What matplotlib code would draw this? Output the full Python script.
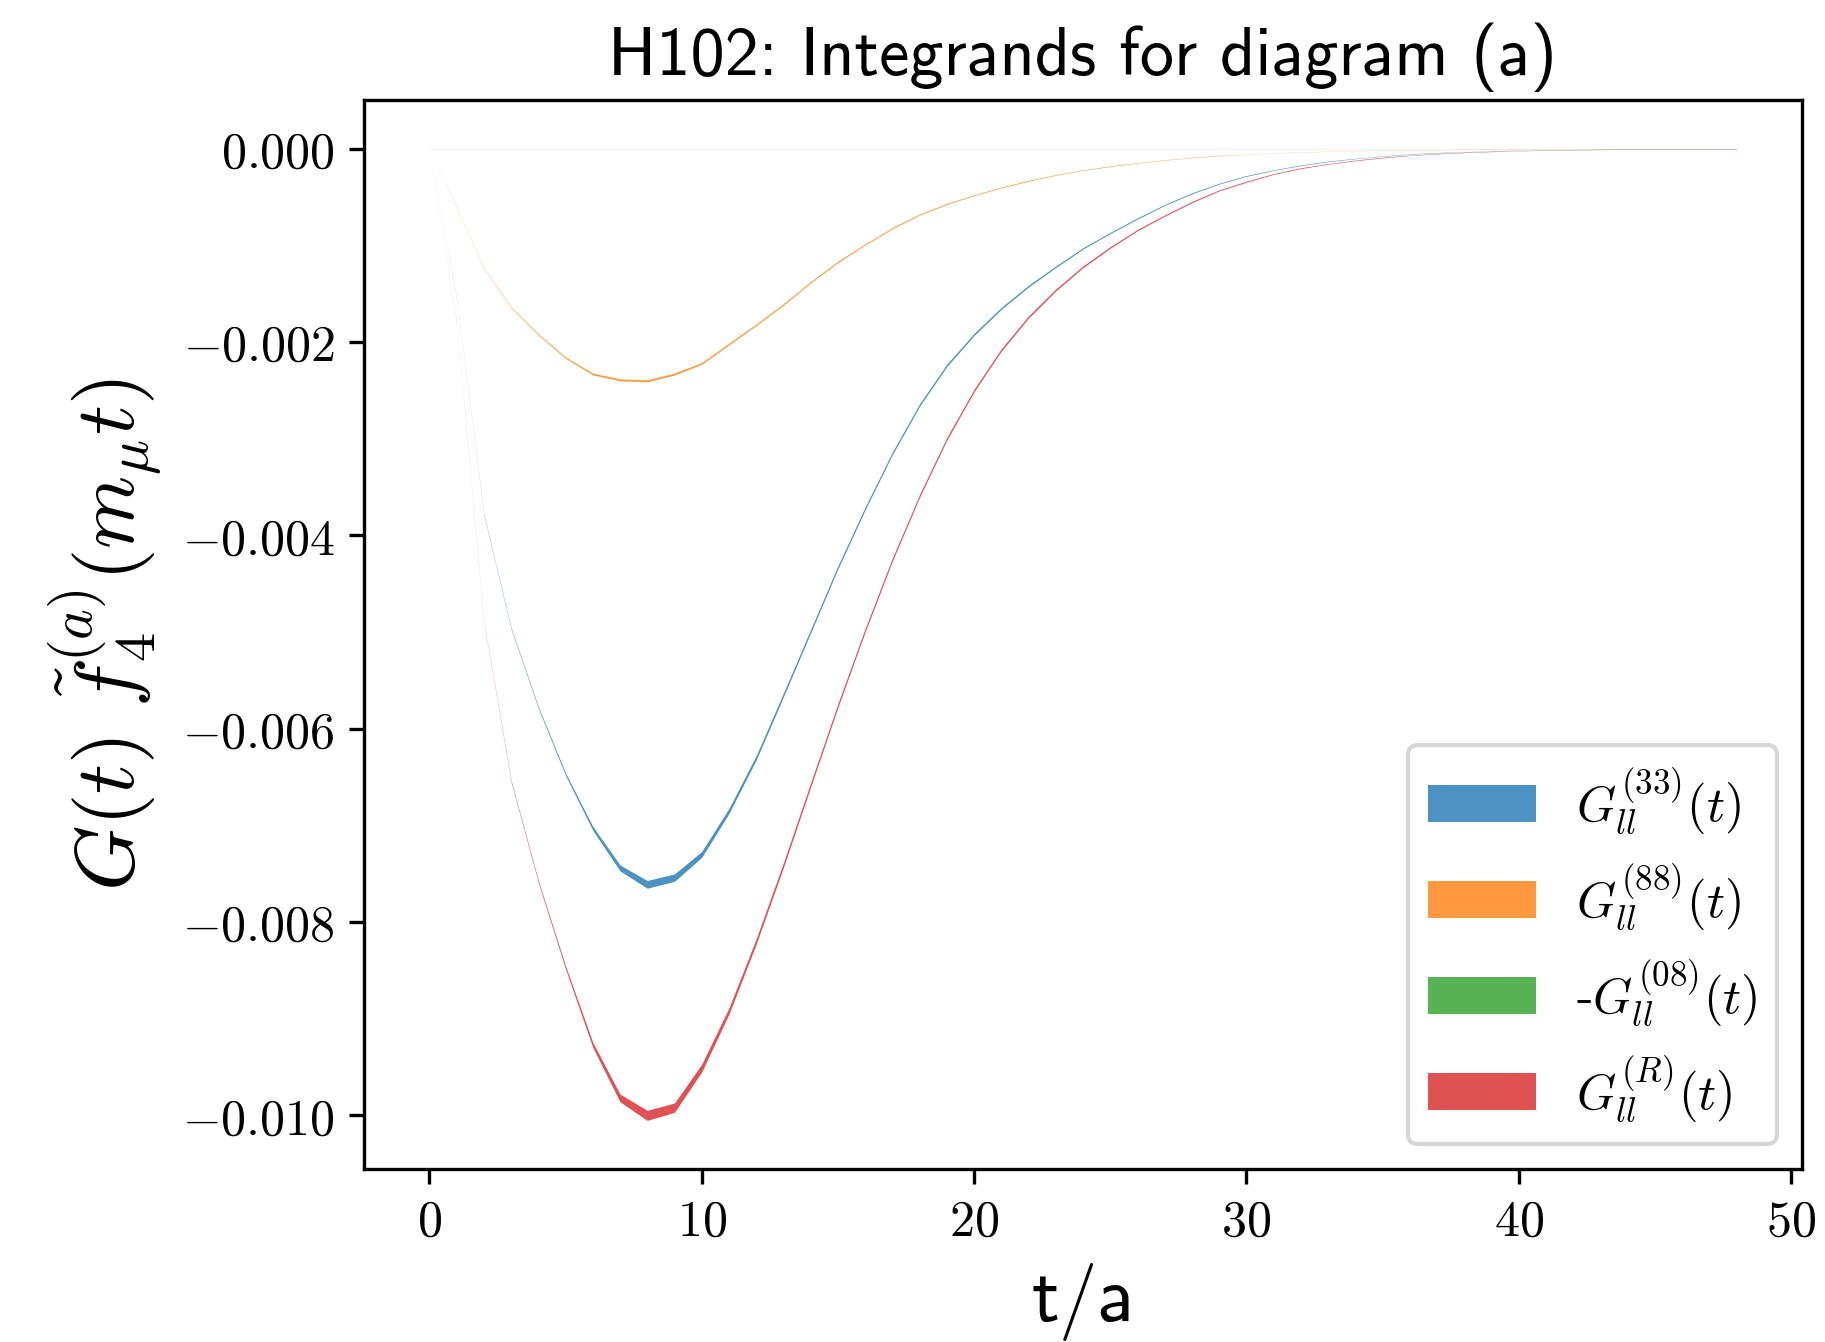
import matplotlib
matplotlib.use('Agg')
import matplotlib.pyplot as plt
import numpy as np

plt.rcParams['mathtext.fontset'] = 'cm'

# time slices t/a
t = np.arange(0, 49)

# integrands in units of 1e-3, with their jackknife errors
scale = 1e-3
g33 = [0.0, -1.55, -3.78, -4.96, -5.78, -6.47, -7.03, -7.44, -7.61, -7.54,
       -7.30, -6.85, -6.30, -5.65, -4.99, -4.33, -3.72, -3.15, -2.65, -2.24,
       -1.92, -1.65, -1.42, -1.22, -1.03, -0.87, -0.72, -0.58, -0.46, -0.36,
       -0.28, -0.22, -0.17, -0.13, -0.10, -0.075, -0.055, -0.04, -0.03, -0.02,
       -0.015, -0.01, -0.008, -0.006, -0.004, -0.003, -0.002, -0.001, -0.001]
g33_err = [0.0, 0.003, 0.005, 0.007, 0.009, 0.013, 0.020, 0.031, 0.040, 0.038,
           0.031, 0.026, 0.023, 0.020, 0.018, 0.016, 0.015, 0.014, 0.013, 0.012,
           0.011, 0.010, 0.009, 0.008, 0.007, 0.006, 0.006, 0.005, 0.005, 0.004,
           0.004, 0.003, 0.003, 0.003, 0.002, 0.002, 0.002, 0.002, 0.001, 0.001,
           0.001, 0.001, 0.001, 0.001, 0.001, 0.001, 0.001, 0.001, 0.001]

g88 = [0.0, -0.61, -1.23, -1.64, -1.92, -2.16, -2.33, -2.39, -2.40, -2.33,
       -2.22, -2.02, -1.82, -1.61, -1.38, -1.17, -0.99, -0.82, -0.68, -0.57,
       -0.48, -0.40, -0.33, -0.27, -0.22, -0.18, -0.145, -0.115, -0.09, -0.07,
       -0.055, -0.043, -0.033, -0.025, -0.019, -0.014, -0.010, -0.008, -0.006, -0.004,
       -0.003, -0.002, -0.002, -0.001, -0.001, -0.001, 0.0, 0.0, 0.0]
g88_err = [0.0, 0.002, 0.003, 0.004, 0.006, 0.007, 0.009, 0.010, 0.010, 0.010,
           0.009, 0.009, 0.008, 0.008, 0.007, 0.007, 0.006, 0.006, 0.005, 0.005,
           0.004, 0.004, 0.004, 0.003, 0.003, 0.003, 0.002, 0.002, 0.002, 0.002,
           0.001, 0.001, 0.001, 0.001, 0.001, 0.001, 0.001, 0.001, 0.001, 0.001,
           0.001, 0.001, 0.001, 0.001, 0.001, 0.001, 0.001, 0.001, 0.001]

g08 = [0.0, 0.001, 0.002, 0.002, 0.002, 0.002, 0.002, 0.002, 0.002, 0.002,
       0.002, 0.002, 0.001, 0.001, 0.001, 0.001, 0.001, 0.001, 0.001, 0.001,
       0.001, 0.001, 0.0, 0.0, 0.0, 0.0, 0.0, 0.0, 0.0, 0.0,
       0.0, 0.0, 0.0, 0.0, 0.0, 0.0, 0.0, 0.0, 0.0, 0.0,
       0.0, 0.0, 0.0, 0.0, 0.0, 0.0, 0.0, 0.0, 0.0]
g08_err = [0.0005] * 49

gR = [0.0, -1.80, -4.89, -6.54, -7.58, -8.47, -9.27, -9.82, -10.00, -9.92,
      -9.51, -8.92, -8.20, -7.41, -6.58, -5.76, -4.98, -4.25, -3.59, -3.00,
      -2.50, -2.08, -1.74, -1.46, -1.22, -1.02, -0.84, -0.69, -0.55, -0.43,
      -0.34, -0.26, -0.20, -0.155, -0.12, -0.09, -0.068, -0.05, -0.037, -0.027,
      -0.02, -0.014, -0.01, -0.007, -0.005, -0.004, -0.003, -0.002, -0.001]
gR_err = [0.0, 0.003, 0.005, 0.008, 0.011, 0.017, 0.026, 0.040, 0.052, 0.048,
          0.040, 0.032, 0.028, 0.025, 0.022, 0.020, 0.018, 0.016, 0.015, 0.014,
          0.013, 0.012, 0.011, 0.010, 0.009, 0.008, 0.007, 0.006, 0.006, 0.005,
          0.005, 0.004, 0.004, 0.003, 0.003, 0.003, 0.002, 0.002, 0.002, 0.002,
          0.001, 0.001, 0.001, 0.001, 0.001, 0.001, 0.001, 0.001, 0.001]

labels = [r'$G_{ll}^{(33)}(t)$', r'$G_{ll}^{(88)}(t)$',
          r'-$G_{ll}^{(08)}(t)$', r'$G_{ll}^{(R)}(t)$']
colors = ['tab:blue', 'tab:orange', 'tab:green', 'tab:red']

xticks = [0, 10, 20, 30, 40, 50]
yticks = [0.0, -0.002, -0.004, -0.006, -0.008, -0.010]
yticklabels = [r'$0.000$', r'$-0.002$', r'$-0.004$', r'$-0.006$', r'$-0.008$', r'$-0.010$']

fig = plt.figure(figsize=(1825/300, 1342/300), dpi=300)
ax = fig.add_axes([364/1825, 1-1169/1342, (1802-364)/1825, (1169-100)/1342])

series = [(g33, g33_err), (g88, g88_err), (g08, g08_err), (gR, gR_err)]
for (val, err), c, lab in zip(series, colors, labels):
    v = np.array(val)*scale
    e = np.array(err)*scale
    ax.fill_between(t, v-e, v+e, color=c, alpha=0.8, linewidth=0, label=lab)

ax.set_xticks(xticks)
ax.set_xticklabels([r'$%d$' % x for x in xticks])
ax.set_yticks(yticks)
ax.set_yticklabels(yticklabels)
ax.tick_params(labelsize=12)

ax.set_title('H102: Integrands for diagram (a)', fontsize=16.4, family='cmss10')
ax.set_xlabel('t/a', fontsize=18.5, family='cmss10')
ax.set_ylabel(r'$G(t)\ \tilde{f}_4^{(a)}(m_\mu t)$', fontsize=20)

ax.legend(loc='lower right', prop={'family': 'cmr10', 'size': 12},
          handlelength=2.15, handleheight=0.75)

plt.savefig('out.png', dpi=300)
